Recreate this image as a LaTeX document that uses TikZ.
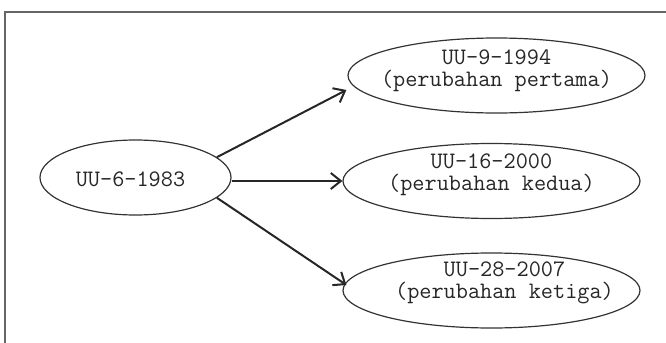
\documentclass[tikz,border=0pt]{standalone}
\usetikzlibrary{arrows.meta, shapes.geometric}

\begin{document}
\begin{tikzpicture}[>={Straight Barb[length=5pt,width=8pt]}, x=0.5pt, y=-0.5pt,
		law/.style={ellipse, draw=black!80, line width=0.6pt, minimum width=148.5pt, minimum height=37.5pt},
		lawtext/.style={font=\ttfamily\fontsize{11.8}{11}\selectfont, align=center, text=black!85, inner sep=0pt}] 
		
		\useasboundingbox (0,0) rectangle (666,343);
		
		%Frame
		\draw[black!60, line width=1pt] (5,343) -- (5,12) -- (666,12);
		
		%Law nodes
		\node[law, minimum width=95.5pt, label={[lawtext, shift={(-5,2)}]center:UU-6-1983}] (uu6) at (135.5,177.5) {}; 
		\node[law, label={[lawtext, shift={(0,-5)}]center:{UU-9-1994\\(perubahan pertama)}}] (uu9) at (496.5,75.5) {}; 
		\node[law, label={[lawtext, shift={(0,-6)}]center:{UU-16-2000\\(perubahan kedua)}}] (uu16) at (491.5,181) {}; 
		\node[law, label={[lawtext, shift={(13,-8)}]center:{UU-28-2007\\(perubahan ketiga)}}] (uu28) at (491.5,290.5) {}; 
		
		%Amendment arrows
		\path[->, line width=1pt, black!85] 
		(uu6.14) edge ([shift={(-1,14.5)}]uu9.west)
		(uu6.east |- uu16.west) edge (uu16.west)
		(uu6.-14) edge ([shift={(4,-5.5)}]uu28.west);
		
		\end{tikzpicture}
\end{document}
